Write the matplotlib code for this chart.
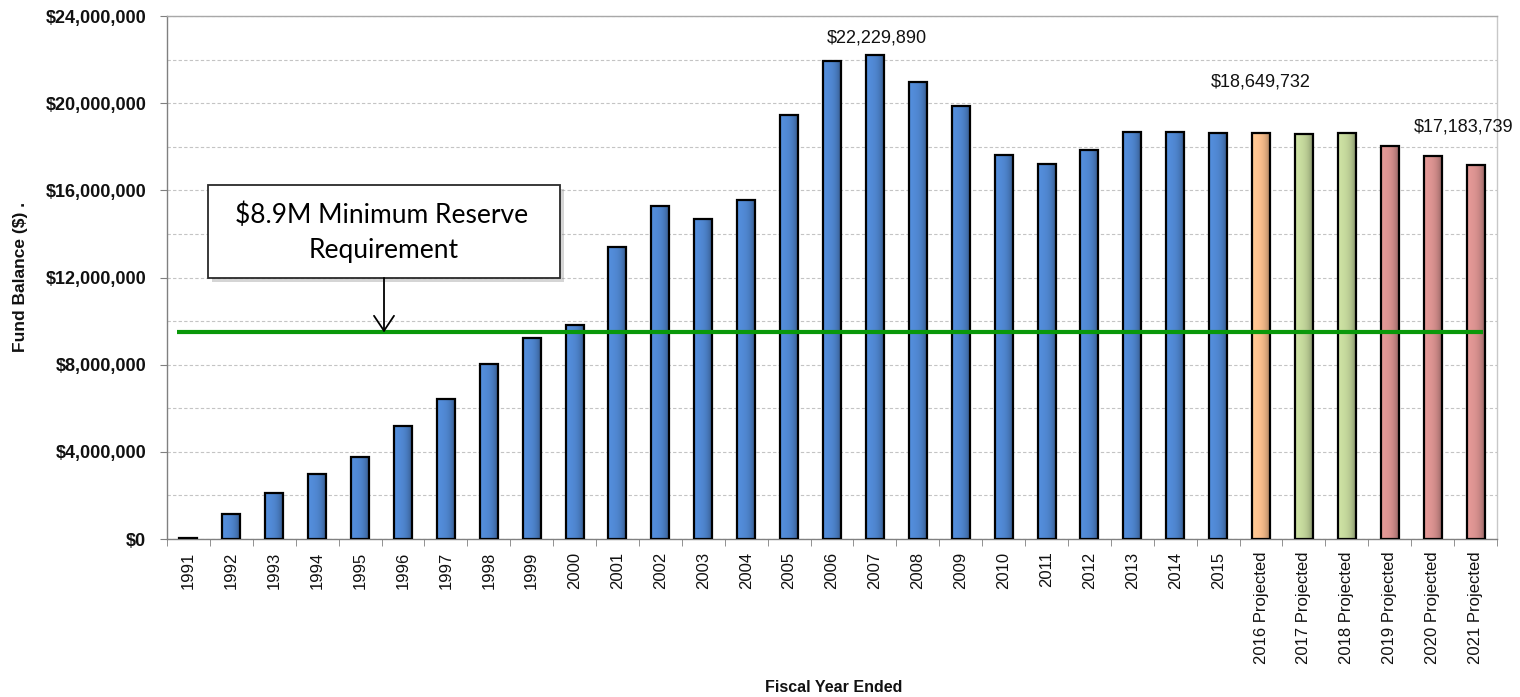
import numpy as np
import matplotlib
matplotlib.use("Agg")
import matplotlib.pyplot as plt
from matplotlib import font_manager
from matplotlib.colors import to_rgb
from matplotlib.patches import Rectangle
from matplotlib.ticker import FixedLocator, FuncFormatter, MultipleLocator
import matplotlib.patheffects as pe

# ---- data ----
years = ["1991", "1992", "1993", "1994", "1995", "1996", "1997", "1998", "1999", "2000",
         "2001", "2002", "2003", "2004", "2005", "2006", "2007", "2008", "2009", "2010",
         "2011", "2012", "2013", "2014", "2015",
         "2016 Projected", "2017 Projected", "2018 Projected",
         "2019 Projected", "2020 Projected", "2021 Projected"]
fund_balance = [30000, 1150000, 2120000, 2990000, 3740000, 5190000, 6410000, 8020000, 9210000, 9800000,
                13380000, 15290000, 14680000, 15550000, 19470000, 21940000, 22229890, 20990000, 19880000, 17630000,
                17200000, 17870000, 18660000, 18660000, 18650000,
                18649732, 18570000, 18650000,
                18020000, 17580000, 17183739]
series_group = ["actual"] * 25 + ["proj_a"] + ["proj_b"] * 2 + ["proj_c"] * 3
group_colors = {"actual": "#4F86D0", "proj_a": "#F9BE8C", "proj_b": "#C2D59A", "proj_c": "#D8918F"}
labelled_years = ["2007", "2016 Projected", "2021 Projected"]
reserve_line = 9480000
reserve_text = ["$8.9M Minimum Reserve", "Requirement"]
yticks = [0, 4000000, 8000000, 12000000, 16000000, 20000000, 24000000]

# ---- fonts ----
available = {f.name for f in font_manager.fontManager.ttflist}
if "Liberation Sans Narrow" in available:
    tick_font = dict(family="Liberation Sans Narrow", size=14)
    value_font = dict(family="Liberation Sans Narrow", size=15)
    xlab_font = dict(family="Liberation Sans Narrow", size=14, weight="bold")
else:
    tick_font = dict(family="Liberation Sans", size=12)
    value_font = dict(family="Liberation Sans", size=13)
    xlab_font = dict(family="Liberation Sans", size=11.5, weight="bold")

W, H, DPI = 1520, 697, 100
fig = plt.figure(figsize=(W / DPI, H / DPI), dpi=DPI)
left_px, right_px, top_px, bottom_px = 167, 1497, 16, 539
ax = fig.add_axes([left_px / W, 1 - bottom_px / H, (right_px - left_px) / W, (bottom_px - top_px) / H])

x = np.arange(len(years))
bar_w = 0.42
colors = [group_colors[g] for g in series_group]

bars = ax.bar(x, fund_balance, bar_w, color=colors, linewidth=0, zorder=3)

# horizontal shading inside each bar
t = np.linspace(0, 1, 64)
shade = 1.07 - 0.12 * t - 0.35 * t ** 4
for b, c in zip(bars, colors):
    rgb = np.array(to_rgb(c))
    img = np.clip(rgb[None, None, :] * shade[None, :, None], 0, 1)
    x0 = b.get_x()
    im = ax.imshow(img, extent=(x0, x0 + b.get_width(), 0, b.get_height()),
                   aspect="auto", zorder=3.2, interpolation="bilinear")
    im.set_clip_path(b)

ax.bar(x, fund_balance, bar_w, fill=False, edgecolor="black", linewidth=1.6, zorder=3.4)

# value labels
label_offsets = {"2007": (2, 17), "2016 Projected": (0, 51), "2021 Projected": (-12, 38)}
for yr in labelled_years:
    i = years.index(yr)
    v = fund_balance[i]
    ax.annotate(f"${v:,.0f}", xy=(i, v), xytext=label_offsets[yr], textcoords="offset pixels",
                ha="center", va="center", color="#111111", zorder=6, **value_font)

# minimum reserve line
ax.hlines(reserve_line, -0.27, 30.17, color="#0A980A", linewidth=3, zorder=5)

# callout box with arrow
box_x0, box_x1 = 0.456, 8.66
box_y0, box_y1 = 11980000, 16250000
box = Rectangle((box_x0, box_y0), box_x1 - box_x0, box_y1 - box_y0, facecolor="white",
                edgecolor="#2a2a2a", linewidth=1.3, zorder=6)
box.set_path_effects([pe.SimplePatchShadow(offset=(3, -3), shadow_rgbFace="#888888", alpha=0.35),
                      pe.Normal()])
ax.add_patch(box)
cx = (box_x0 + box_x1) / 2
ax.text(cx - 0.05, 14870000, reserve_text[0], ha="center", va="center",
        family="Lato", fontsize=19, color="black", zorder=7)
ax.text(cx, 13260000, reserve_text[1], ha="center", va="center",
        family="Lato", fontsize=19, color="black", zorder=7)
ax.annotate("", xy=(cx, reserve_line), xytext=(cx, box_y0),
            arrowprops=dict(arrowstyle="->,head_length=0.6,head_width=0.4", lw=1.3,
                            color="black", mutation_scale=18, shrinkA=0, shrinkB=0),
            zorder=6)

# axes
ax.set_xlim(-0.5, len(years) - 0.5)
ax.set_ylim(0, 24000000)
ax.set_axisbelow(True)

ax.yaxis.set_major_locator(FixedLocator(yticks))
ax.yaxis.set_minor_locator(MultipleLocator(2000000))
ax.yaxis.set_major_formatter(FuncFormatter(lambda v, p: f"${v:,.0f}"))
ax.grid(axis="y", which="both", linestyle=(0, (3, 2)), color="#c4c4c4", linewidth=0.8)
ax.tick_params(axis="y", which="major", direction="out", length=5, color="#808080", pad=10)
ax.tick_params(axis="y", which="minor", length=0)
for lab in ax.get_yticklabels():
    lab.set_fontfamily("Liberation Sans")
    lab.set_fontweight("bold")
    lab.set_fontsize(13)
    lab.set_color("#111111")

ax.set_xticks(x)
ax.set_xticklabels(years, rotation=90, color="#111111", **tick_font)
ax.xaxis.set_minor_locator(FixedLocator(np.arange(-0.5, len(years), 1.0)))
ax.tick_params(axis="x", which="major", length=0, pad=9)
ax.tick_params(axis="x", which="minor", direction="out", length=5, color="#808080")

ax.spines["left"].set_color("#808080")
ax.spines["bottom"].set_color("#808080")
ax.spines["top"].set_color("#a8a8a8")
ax.spines["right"].set_color("#c8c8c8")
for s in ax.spines.values():
    s.set_linewidth(1.0)

fig.text(21 / W, 1 - 277 / H, "Fund Balance ($) .", rotation=90, ha="center", va="center",
         family="Liberation Sans", fontsize=12.5, fontweight="bold", color="#111111")
fig.text(834 / W, 1 - 688 / H, "Fiscal Year Ended", ha="center", va="center",
         color="#111111", **xlab_font)

fig.savefig("out.png", dpi=DPI, facecolor="white")
